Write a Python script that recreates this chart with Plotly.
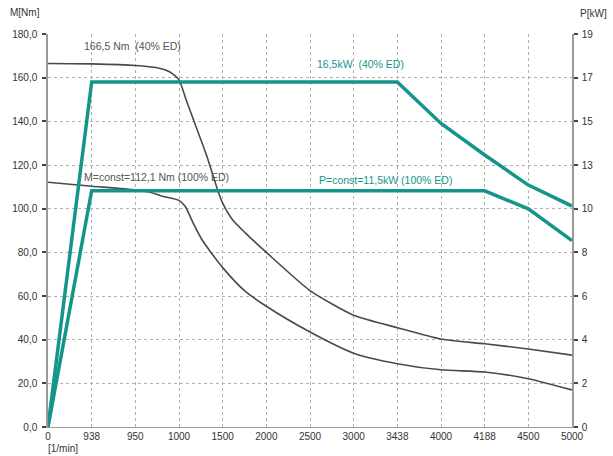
import numpy as np
import plotly.graph_objects as go

# x categories (evenly spaced on the axis)
rpm_ticks = [0, 938, 950, 1000, 1500, 2000, 2500, 3000, 3438, 4000, 4188, 4500, 5000]
rpm_labels = [str(v) for v in rpm_ticks]

# left axis (torque) ticks and right axis (power) labels
m_ticks = [0, 20, 40, 60, 80, 100, 120, 140, 160, 180]
m_labels = ["0,0", "20,0", "40,0", "60,0", "80,0", "100,0", "120,0", "140,0", "160,0", "180,0"]
p_labels = ["0", "2", "4", "6", "8", "10", "13", "15", "17", "19"]

# torque curve 40% ED
t40_rpm = [0, 938, 950, 975, 990, 1000, 1080, 1167, 1321, 1442, 1500, 1615, 1765, 2000, 2500, 3000, 3438, 4000, 4188, 4500, 5000]
t40_val = [166.5, 166.3, 165.6, 164.5, 162.5, 159.0, 150.0, 140.6, 123.8, 108.6, 102.5, 94.8, 88.7, 80.0, 62.5, 51.2, 45.5, 40.3, 38.1, 35.7, 32.9]

# torque curve 100% ED
t100_rpm = [0, 469, 938, 950, 966, 980, 1000, 1072, 1167, 1260, 1360, 1500, 1740, 2000, 2500, 3000, 3438, 4000, 4188, 4500, 5000]
t100_val = [112.1, 111.2, 110.3, 108.6, 107.6, 105.8, 103.8, 101.0, 93.0, 86.0, 80.3, 73.0, 62.8, 55.3, 43.5, 33.8, 29.0, 26.2, 25.2, 22.1, 17.0]

# power curve 40% ED (drawn on torque scale)
p40_rpm = [0, 938, 3438, 4000, 4188, 4500, 5000]
p40_val = [0, 158.0, 158.0, 139.0, 124.6, 110.8, 101.2]

# power curve 100% ED (drawn on torque scale)
p100_rpm = [0, 938, 4188, 4500, 5000]
p100_val = [0, 108.2, 108.2, 99.9, 85.4]

idx = list(range(len(rpm_ticks)))


def xpos(r):
    return np.interp(r, rpm_ticks, idx)


TEAL = "#15958a"
GRAY = "#4a4a4a"
FONT = "Liberation Sans, Arial, sans-serif"

fig = go.Figure()
fig.add_trace(go.Scatter(x=xpos(t40_rpm), y=t40_val, mode="lines",
                         line=dict(color=GRAY, width=1.6, shape="spline", smoothing=0.6),
                         hoverinfo="skip", showlegend=False))
fig.add_trace(go.Scatter(x=xpos(t100_rpm), y=t100_val, mode="lines",
                         line=dict(color=GRAY, width=1.6, shape="spline", smoothing=0.6),
                         hoverinfo="skip", showlegend=False))
fig.add_trace(go.Scatter(x=xpos(p40_rpm), y=p40_val, mode="lines",
                         line=dict(color=TEAL, width=3.5),
                         hoverinfo="skip", showlegend=False))
fig.add_trace(go.Scatter(x=xpos(p100_rpm), y=p100_val, mode="lines",
                         line=dict(color=TEAL, width=3.5),
                         hoverinfo="skip", showlegend=False))
# helper trace so the right axis is drawn
fig.add_trace(go.Scatter(x=[0], y=[0], yaxis="y2", mode="markers",
                         marker=dict(opacity=0), hoverinfo="skip", showlegend=False))

GRID = "#b0b0b0"
AXL = "#9a9a9a"

fig.update_layout(
    width=613, height=456,
    margin=dict(l=48, r=41, t=34, b=29),
    plot_bgcolor="white", paper_bgcolor="white",
    font=dict(family=FONT, size=10, color="#333333"),
    xaxis=dict(range=[0, 12], tickvals=idx, ticktext=rpm_labels,
               showgrid=True, gridcolor=GRID, griddash="dot", gridwidth=1,
               showline=True, linecolor=AXL, linewidth=1.2,
               ticks="", zeroline=False, fixedrange=True,
               tickfont=dict(size=10, color="#333333")),
    yaxis=dict(range=[0, 180], tickvals=m_ticks, ticktext=m_labels,
               showgrid=True, gridcolor=GRID, griddash="dot", gridwidth=1,
               showline=True, linecolor=AXL, linewidth=1.5,
               ticks="outside", ticklen=4, tickwidth=2, tickcolor="#444444",
               ticklabelstandoff=3, zeroline=False, fixedrange=True,
               tickfont=dict(size=10, color="#333333")),
    yaxis2=dict(range=[0, 180], overlaying="y", side="right",
                tickvals=m_ticks, ticktext=p_labels,
                showgrid=False, showline=True, linecolor=AXL, linewidth=1.5,
                ticks="outside", ticklen=4, tickwidth=2, tickcolor="#444444",
                ticklabelstandoff=2, zeroline=False, fixedrange=True,
                tickfont=dict(size=10, color="#333333")),
)

ann_font_gray = dict(family=FONT, size=10.5, color="#555555")
ann_font_teal = dict(family=FONT, size=10.5, color=TEAL)
fig.add_annotation(x=0.78, y=174.4, xref="x", yref="y", text="166,5 Nm \u00a0(40% ED)",
                   showarrow=False, xanchor="left", yanchor="middle", font=ann_font_gray)
fig.add_annotation(x=6.12, y=166.2, xref="x", yref="y", text="16,5kW \u00a0(40% ED)",
                   showarrow=False, xanchor="left", yanchor="middle", font=ann_font_teal)
fig.add_annotation(x=0.78, y=114.6, xref="x", yref="y", text="M=const=112,1 Nm (100% ED)",
                   showarrow=False, xanchor="left", yanchor="middle", font=ann_font_gray)
fig.add_annotation(x=6.16, y=113.1, xref="x", yref="y", text="P=const=11,5kW (100% ED)",
                   showarrow=False, xanchor="left", yanchor="middle", font=ann_font_teal)

# axis titles
fig.add_annotation(x=8, y=456 - 12, xref="paper", yref="paper", text="M[Nm]",
                   showarrow=False, xanchor="left", yanchor="middle",
                   font=dict(family=FONT, size=10, color="#333333"))
fig.add_annotation(x=609, y=456 - 14, xref="paper", yref="paper", text="P[kW]",
                   showarrow=False, xanchor="right", yanchor="middle",
                   font=dict(family=FONT, size=10, color="#333333"))
fig.add_annotation(x=46, y=456 - 448, xref="paper", yref="paper", text="[1/min]",
                   showarrow=False, xanchor="left", yanchor="middle",
                   font=dict(family=FONT, size=10, color="#333333"))

# convert pixel-based paper positions to paper fractions
pw, ph = 613 - 48 - 41, 456 - 34 - 29
for a in fig.layout.annotations[-3:]:
    a.x = (a.x - 48) / pw
    a.y = (a.y - 29) / ph

fig.write_html("out.html", config={"displayModeBar": False},
               post_script="document.body.style.margin='0px';document.body.style.overflow='hidden';")
